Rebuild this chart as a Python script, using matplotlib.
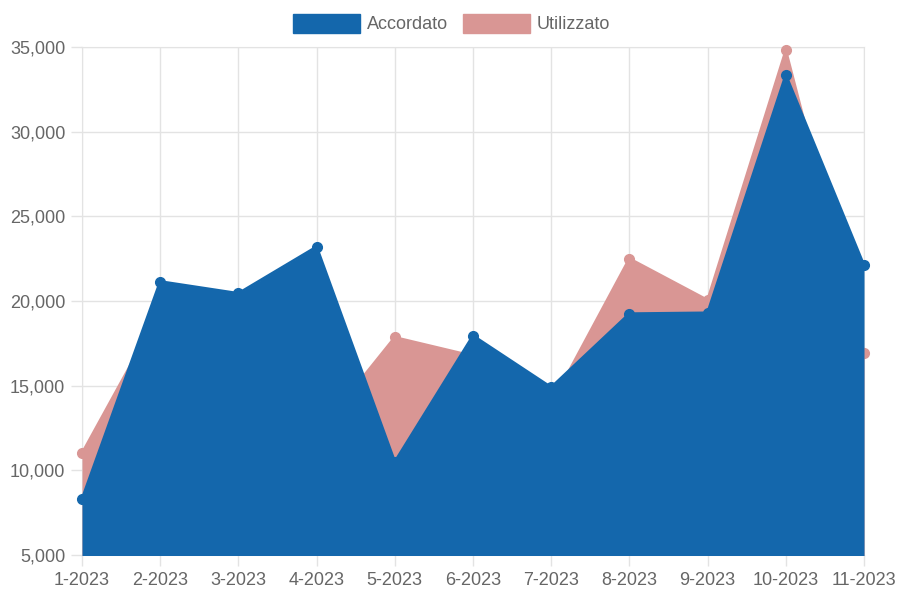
import matplotlib
matplotlib.use("Agg")
import matplotlib.pyplot as plt
from matplotlib.patches import Patch
import numpy as np

plt.rcParams['font.family'] = ['Liberation Sans', 'DejaVu Sans']

categories = ["1-2023", "2-2023", "3-2023", "4-2023", "5-2023", "6-2023",
              "7-2023", "8-2023", "9-2023", "10-2023", "11-2023"]
accordato = [8300, 21150, 20450, 23200, 10500, 17950, 14900, 19250, 19300, 33350, 22100]
utilizzato = [11000, 19400, 18000, 12100, 17850, 16750, 13900, 22500, 20050, 34800, 16950]
y_ticks = [5000, 10000, 15000, 20000, 25000, 30000, 35000]

blue = "#1467ac"
pink = "#d99694"
grid_c = "#e3e3e3"
text_c = "#666666"

fig = plt.figure(figsize=(8.98, 5.91), dpi=100)
ax = fig.add_axes([82/898, (591-555)/591, (864-82)/898, (555-47)/591])

x = np.arange(len(categories))
ax.fill_between(x, 0, utilizzato, color=pink, lw=0, zorder=2)
ax.plot(x, utilizzato, color=pink, lw=2, marker='o', ms=7, zorder=3, clip_on=False)
ax.fill_between(x, 0, accordato, color=blue, lw=0, zorder=4)
ax.plot(x, accordato, color=blue, lw=2, marker='o', ms=7, zorder=5, clip_on=False)

ax.set_xlim(0, len(categories) - 1)
ax.set_ylim(5000, 35000)
ax.set_xticks(x)
ax.set_xticklabels(categories)
ax.set_yticks(y_ticks)
ax.set_yticklabels([f"{v:,}" for v in y_ticks])
ax.grid(True, color=grid_c, lw=1, zorder=0)
ax.set_axisbelow(True)
for s in ax.spines.values():
    s.set_color(grid_c)
    s.set_zorder(1)
ax.tick_params(axis='both', colors=grid_c, labelcolor=text_c, labelsize=13,
               length=8, width=1)
ax.tick_params(axis='x', pad=4)
ax.tick_params(axis='y', pad=4)

handles = [Patch(facecolor=blue, edgecolor=blue, label="Accordato"),
           Patch(facecolor=pink, edgecolor=pink, label="Utilizzato")]
fig.legend(handles=handles, loc='upper center', bbox_to_anchor=(0.503, 0.995),
           ncol=2, frameon=False, handlelength=3.7, handleheight=1.25,
           handletextpad=0.4, columnspacing=0.8, fontsize=13,
           labelcolor=text_c, borderaxespad=0.2)

fig.savefig("out.png", dpi=100)
